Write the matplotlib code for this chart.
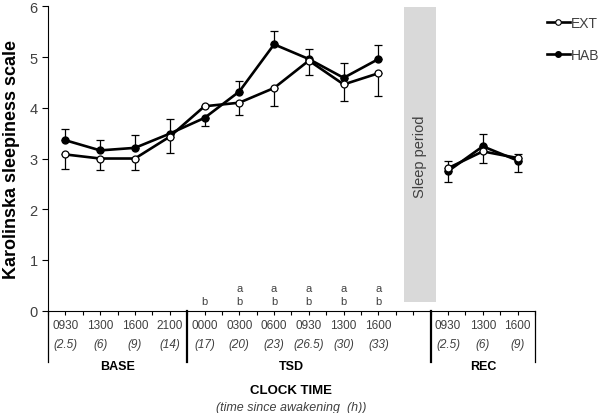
import matplotlib.pyplot as plt
from matplotlib.patches import Rectangle
from matplotlib.lines import Line2D

plt.rcParams['font.family'] = ['Liberation Sans', 'DejaVu Sans']

# positions of the sessions on the time axis (sleep period sits between TSD and REC)
x_pos = [0, 1, 2, 3, 4, 5, 6, 7, 8, 9, 11, 12, 13]
clock = ["0930", "1300", "1600", "2100", "0000", "0300", "0600", "0930", "1300", "1600",
         "0930", "1300", "1600"]
awake = ["(2.5)", "(6)", "(9)", "(14)", "(17)", "(20)", "(23)", "(26.5)", "(30)", "(33)",
         "(2.5)", "(6)", "(9)"]

ext = [3.08, 3.00, 3.00, 3.43, 4.03, 4.10, 4.39, 4.93, 4.46, 4.68, 2.81, 3.14, 3.01]
ext_lo = [0.28, 0.22, 0.22, 0.32, 0.00, 0.25, 0.35, 0.28, 0.32, 0.45, 0.00, 0.23, 0.00]
ext_hi = [0.00, 0.00, 0.00, 0.00, 0.00, 0.00, 0.00, 0.00, 0.00, 0.00, 0.15, 0.00, 0.08]

hab = [3.36, 3.16, 3.21, 3.49, 3.80, 4.32, 5.25, 4.96, 4.59, 4.96, 2.75, 3.24, 2.96]
hab_lo = [0.00, 0.00, 0.00, 0.00, 0.15, 0.00, 0.00, 0.00, 0.00, 0.00, 0.21, 0.00, 0.22]
hab_hi = [0.23, 0.20, 0.25, 0.29, 0.00, 0.20, 0.26, 0.19, 0.30, 0.27, 0.00, 0.25, 0.00]

# significance letters above the axis (TSD sessions)
sig_x = [4, 5, 6, 7, 8, 9]
sig_a = ["", "a", "a", "a", "a", "a"]
sig_b = ["b", "b", "b", "b", "b", "b"]

groups = ["BASE", "TSD", "REC"]
group_x = [1.5, 6.5, 12]
bounds = [-0.5, 3.5, 10.5, 13.5]

grey = "#404040"

fig = plt.figure(figsize=(6.02, 4.14), dpi=100)
ax = fig.add_axes([0.0797, 0.247, 0.809, 0.7354])

# sleep period box
ax.add_patch(Rectangle((9.74, 0.17), 0.92, 5.81, facecolor="#d9d9d9", edgecolor="none", zorder=0))
ax.text(10.2, 3.05, "Sleep period", rotation=90, ha="center", va="center", fontsize=10.5, color=grey)

segs = [(0, 10), (10, 13)]
for s, e in segs:
    xs = x_pos[s:e]
    ax.errorbar(xs, hab[s:e], yerr=[hab_lo[s:e], hab_hi[s:e]], color="black", lw=1.9,
                marker="o", ms=5, mfc="black", mec="black", elinewidth=0.9, capsize=3,
                capthick=0.9, zorder=3)
    ax.errorbar(xs, ext[s:e], yerr=[ext_lo[s:e], ext_hi[s:e]], color="black", lw=1.9,
                marker="o", ms=5, mfc="white", mec="black", mew=0.9, elinewidth=0.9, capsize=3,
                capthick=0.9, zorder=4)

for x, a, b in zip(sig_x, sig_a, sig_b):
    ax.text(x, 0.45, a, ha="center", va="center", fontsize=8, color=grey)
    ax.text(x, 0.19, b, ha="center", va="center", fontsize=8, color=grey)

ax.set_xlim(-0.5, 13.5)
ax.set_ylim(0, 6)
ax.set_yticks(range(7))
ax.tick_params(axis="y", labelsize=10.5, labelcolor=grey, length=4, width=0.8)
ax.set_xticks([i * 0.5 for i in range(-1, 28)])
ax.set_xticklabels([])
ax.tick_params(axis="x", length=3, width=0.8, direction="out")
ax.spines["top"].set_visible(False)
ax.spines["right"].set_visible(False)
ax.set_ylabel("Karolinska sleepiness scale", fontsize=13, fontweight="bold", labelpad=7)

for x, c, w in zip(x_pos, clock, awake):
    ax.text(x, -0.28, c, ha="center", va="center", fontsize=8.5, color=grey, clip_on=False)
    ax.text(x, -0.66, w, ha="center", va="center", fontsize=8.5, style="italic", color=grey, clip_on=False)

for b in bounds:
    ax.plot([b, b], [0, -1.01], color="black", lw=1.6 if b in (3.5, 10.5) else 0.9,
            clip_on=False, zorder=2)

for x, g in zip(group_x, groups):
    ax.text(x, -1.09, g, ha="center", va="center", fontsize=9, fontweight="bold", clip_on=False)

ax.text(6.5, -1.56, "CLOCK TIME", ha="center", va="center", fontsize=9.5, fontweight="bold",
        clip_on=False)
ax.text(6.5, -1.89, "(time since awakening  (h))", ha="center", va="center", fontsize=9,
        style="italic", color=grey, clip_on=False)

h_ext = Line2D([], [], color="black", lw=1.9, marker="o", ms=4, mfc="white", mec="black", mew=0.8)
h_hab = Line2D([], [], color="black", lw=1.9, marker="o", ms=4, mfc="black", mec="black")
leg = fig.legend([h_ext, h_hab], ["EXT", "HAB"], loc="upper left",
                 bbox_to_anchor=(0.9, 0.972), frameon=False, fontsize=10,
                 handlelength=1.6, handletextpad=0.1, labelspacing=1.3, borderaxespad=0)
for t in leg.get_texts():
    t.set_color(grey)

fig.savefig("out.png", dpi=100)
